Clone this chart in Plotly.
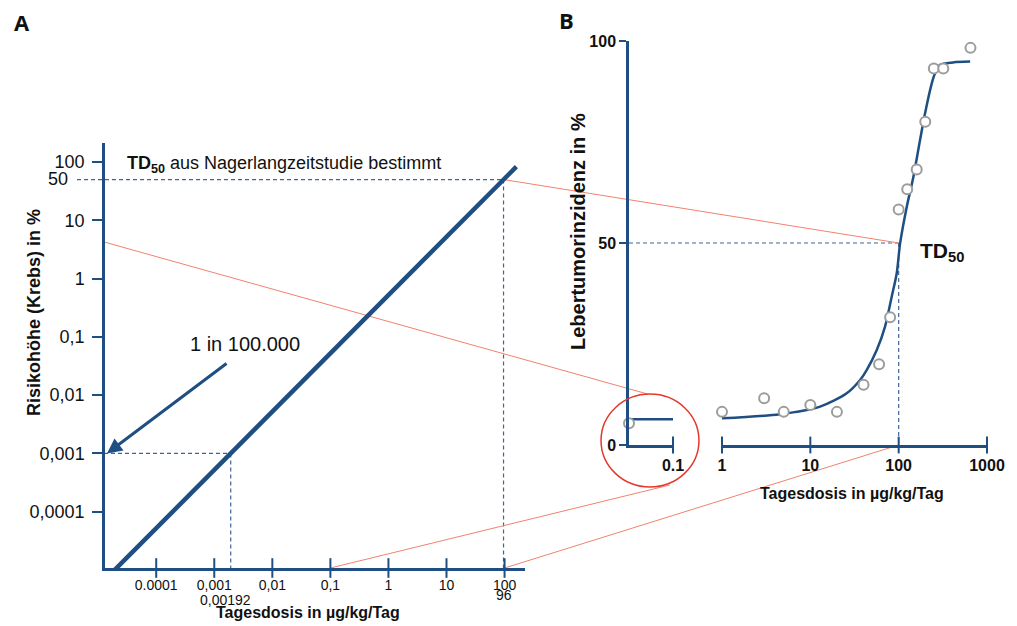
import math
import plotly.graph_objects as go

W, H = 1017, 626

# ---------------- data ----------------
# Panel A (log-log extrapolation)
a_x_tickvals = [1e-4, 1e-3, 1e-2, 1e-1, 1, 10, 100]
a_x_ticktext = ["0.0001", "0,001", "0,01", "0,1", "1", "10", "100"]
a_y_tickvals = [1e-4, 1e-3, 1e-2, 1e-1, 1, 10, 100]
a_y_ticktext = ["0,0001", "0,001", "0,01", "0,1", "1", "10", "100"]
td50_dose = 96
td50_risk = 50
target_risk = 0.001
target_dose = 0.00192
line_dose = [0.0000192, 160]
line_risk = [0.00001, 83.3]
red_start_risk = 4.2

# Panel B (dose-response)
b_x_tickvals = [1, 10, 100, 1000]
b_x_ticktext = ["1", "10", "100", "1000"]
b_y_tickvals = [0, 50, 100]
curve_dose = [1, 4.5, 12.9, 25.8, 36.6, 43.6, 56.5, 70.1, 83.4, 95.1, 103.8,
              123.6, 146.9, 174.6, 199, 237, 258, 294, 413, 644]
curve_pct = [6.6, 7.6, 9.5, 12.8, 16.1, 18.6, 23.5, 29.3, 36.7, 42.5, 49.9,
             59.0, 66.4, 75.5, 82.1, 89.5, 92.0, 94.1, 94.7, 94.9]
obs_dose = [1, 3, 5, 10, 20, 40, 60, 80, 100, 125, 160, 200, 250, 320, 650]
obs_pct = [8.2, 11.6, 8.2, 9.9, 8.2, 14.9, 20.0, 31.6, 58.3, 63.3, 68.2, 80.0, 93.2, 93.2, 98.3]
low_dose = [0, 0.1]
low_level = [6.4, 6.4]
ctrl_dose = [0]
ctrl_pct = [5.4]
b_td50_dose = 100
b_td50_pct = 50

# ---------------- layout geometry ----------------
A_X = dict(p0=105, p1=525, r0=-4.882, r1=2.352, log=True)
A_Y = dict(p0=568, p1=143, r0=-4.966, r1=2.326, log=True)
B1_X = dict(p0=629, p1=673, r0=0.0, r1=0.1, log=False)
B_Y = dict(p0=445, p1=41, r0=0.0, r1=100.0, log=False)
B2_X = dict(p0=722, p1=987, r0=0.0, r1=3.0, log=True)


def to_px(v, ax):
    t = math.log10(v) if ax["log"] else v
    return ax["p0"] + (t - ax["r0"]) / (ax["r1"] - ax["r0"]) * (ax["p1"] - ax["p0"])


def px_x(px):
    return px / W


def px_y(py):
    return 1 - py / H


def dom_x(ax):
    return [ax["p0"] / W, ax["p1"] / W]


def dom_y(ax):
    return [1 - ax["p0"] / H, 1 - ax["p1"] / H]


BLUE = "#1f4e82"
DASH = "#3f6597"
SALMON = "#f2826c"
RED = "#e5372c"
GREY = "#9c9c9c"
FONT = "Liberation Sans"

fig = go.Figure()

# Panel A diagonal
fig.add_trace(go.Scatter(x=line_dose, y=line_risk, xaxis="x", yaxis="y", mode="lines",
                         line=dict(color=BLUE, width=4.5), hoverinfo="skip"))
# crossing tick marks A x-axis
fig.add_trace(go.Scatter(x=a_x_tickvals, y=[10 ** A_Y["r0"]] * len(a_x_tickvals), xaxis="x", yaxis="y",
                         mode="markers", cliponaxis=False,
                         marker=dict(symbol="line-ns", size=14, line=dict(color=BLUE, width=2)),
                         hoverinfo="skip"))

# Panel B curve
fig.add_trace(go.Scatter(x=curve_dose, y=curve_pct, xaxis="x3", yaxis="y2", mode="lines",
                         line=dict(color=BLUE, width=2.5, shape="spline", smoothing=0.8),
                         hoverinfo="skip"))
fig.add_trace(go.Scatter(x=obs_dose, y=obs_pct, xaxis="x3", yaxis="y2", mode="markers",
                         cliponaxis=False,
                         marker=dict(symbol="circle", size=10, color="white",
                                     line=dict(color=GREY, width=2))))
fig.add_trace(go.Scatter(x=low_dose, y=low_level, xaxis="x2", yaxis="y2", mode="lines",
                         line=dict(color=BLUE, width=2.5), hoverinfo="skip"))
fig.add_trace(go.Scatter(x=ctrl_dose, y=ctrl_pct, xaxis="x2", yaxis="y2", mode="markers",
                         cliponaxis=False,
                         marker=dict(symbol="circle", size=10, color="white",
                                     line=dict(color=GREY, width=2))))
# crossing tick marks B
fig.add_trace(go.Scatter(x=b_x_tickvals, y=[0] * len(b_x_tickvals), xaxis="x3", yaxis="y2",
                         mode="markers", cliponaxis=False,
                         marker=dict(symbol="line-ns", size=12, line=dict(color=BLUE, width=2)),
                         hoverinfo="skip"))
fig.add_trace(go.Scatter(x=[B1_X["r1"]], y=[0], xaxis="x2", yaxis="y2",
                         mode="markers", cliponaxis=False,
                         marker=dict(symbol="line-ns", size=12, line=dict(color=BLUE, width=2)),
                         hoverinfo="skip"))

common = dict(showgrid=False, zeroline=False, showline=True, linecolor=BLUE, tickcolor=BLUE,
              automargin=False)

fig.update_layout(
    template="none",
    width=W, height=H, margin=dict(l=0, r=0, t=0, b=0, pad=0), autosize=False,
    paper_bgcolor="white", plot_bgcolor="white", showlegend=False,
    font=dict(family=FONT, color="#111111"),
    xaxis=dict(type="log", range=[A_X["r0"], A_X["r1"]], domain=dom_x(A_X), anchor="y",
               tickvals=a_x_tickvals, ticktext=a_x_ticktext, ticks="", ticklabelstandoff=2,
               linewidth=2.5, tickfont=dict(size=14, family=FONT, color="#111"), **common),
    yaxis=dict(type="log", range=[A_Y["r0"], A_Y["r1"]], domain=dom_y(A_Y), anchor="x",
               tickvals=a_y_tickvals, ticktext=a_y_ticktext, ticks="outside", ticklen=10,
               tickwidth=1.5, linewidth=2.5, ticklabelstandoff=4,
               tickfont=dict(size=18, family=FONT, color="#111"), **common),
    xaxis2=dict(range=[B1_X["r0"], B1_X["r1"]], domain=dom_x(B1_X), anchor="y2",
                tickvals=[B1_X["r1"]], ticktext=["<b>0.1</b>"], ticks="",
                linewidth=2.5, ticklabelstandoff=4,
                tickfont=dict(size=16, family=FONT, color="#111"), **common),
    yaxis2=dict(range=[B_Y["r0"], B_Y["r1"]], domain=dom_y(B_Y), anchor="x2",
                tickvals=b_y_tickvals, ticktext=["<b>%d</b>" % v for v in b_y_tickvals],
                ticks="outside", ticklen=7, tickwidth=2, linewidth=2.5,
                tickfont=dict(size=16, family=FONT, color="#111"), **common),
    xaxis3=dict(type="log", range=[B2_X["r0"], B2_X["r1"]], domain=dom_x(B2_X), anchor="y2",
                tickvals=b_x_tickvals, ticktext=["<b>%s</b>" % t for t in b_x_ticktext],
                ticks="", linewidth=2.5, ticklabelstandoff=4,
                tickfont=dict(size=16, family=FONT, color="#111"), **common),
)

shapes = []


def seg(x0, y0, x1, y1, color, width, dash="solid"):
    shapes.append(dict(type="line", xref="paper", yref="paper",
                       x0=px_x(x0), y0=px_y(y0), x1=px_x(x1), y1=px_y(y1),
                       line=dict(color=color, width=width, dash=dash), layer="below"))


GUIDE_DASH = "4px,3px"

# Panel A dashed guides
ax_left = A_X["p0"]
y_t = to_px(target_risk, A_Y)
x_t = to_px(target_dose, A_X)
seg(ax_left - 8, y_t, x_t, y_t, DASH, 1.2, GUIDE_DASH)
seg(x_t, y_t, x_t, A_Y["p0"], DASH, 1.2, GUIDE_DASH)
y_50 = to_px(td50_risk, A_Y)
x_96 = to_px(td50_dose, A_X)
seg(ax_left - 28, y_50, x_96, y_50, DASH, 1.2, GUIDE_DASH)
seg(x_96, y_50, x_96, A_Y["p0"], DASH, 1.2, GUIDE_DASH)

# Panel B dashed guides
yb50 = to_px(b_td50_pct, B_Y)
xb100 = to_px(b_td50_dose, B2_X)
seg(B1_X["p0"], yb50, xb100, yb50, DASH, 1.2, GUIDE_DASH)
seg(xb100, yb50, xb100, B_Y["p0"], DASH, 1.2, GUIDE_DASH)

# red highlight circle (in B1 data units)
circ_x = [-0.0636, 0.159]
circ_y = [-10.4, 12.6]
shapes.append(dict(type="circle", xref="paper", yref="paper",
                   x0=px_x(to_px(circ_x[0], B1_X)), x1=px_x(to_px(circ_x[1], B1_X)),
                   y0=px_y(to_px(circ_y[0], B_Y)), y1=px_y(to_px(circ_y[1], B_Y)),
                   line=dict(color=RED, width=1.5)))

# connector lines
seg(A_X["p0"], to_px(red_start_risk, A_Y), to_px(0.043, B1_X), to_px(12.6, B_Y), SALMON, 1)
seg(x_96, y_50, xb100, yb50, SALMON, 1)
seg(to_px(0.1, A_X), A_Y["p0"], to_px(0.093, B1_X), to_px(-9.9, B_Y), SALMON, 1)
seg(to_px(100, A_X), A_Y["p0"], xb100, B_Y["p0"], SALMON, 1)

fig.update_layout(shapes=shapes)

ann = []


def text(px, py, s, size, bold=False, xanchor="center", yanchor="middle", angle=0, family=FONT):
    ann.append(dict(xref="paper", yref="paper", x=px_x(px), y=px_y(py), text=s,
                    showarrow=False, xanchor=xanchor, yanchor=yanchor, textangle=angle,
                    font=dict(size=size, family=family, color="#111",
                              weight="bold" if bold else "normal")))


text(22, 22, "A", 22, bold=True, family="Open Sans")
text(566, 20, "B", 22, bold=True, family="Open Sans")
text(ax_left - 35, y_50 - 1, "50", 18, xanchor="right")
text(125, 164, "<b>TD<sub>50</sub></b> aus Nagerlangzeitstudie bestimmt", 18, xanchor="left")
text(245, 344, "1 in 100.000", 20)
text(x_t - 5, 600, "0,00192", 14)
text(x_96, 595, "96", 14)
text(34, 313, "Risikohöhe (Krebs) in %", 18, bold=True, angle=-90)
text(308, 612, "Tagesdosis in µg/kg/Tag", 16, bold=True)
text(852, 493, "Tagesdosis in µg/kg/Tag", 16, bold=True)
text(578, 232, "Lebertumorinzidenz in %", 20, bold=True, angle=-90)
text(918, 252, "<b>TD<sub>50</sub></b>", 21, xanchor="left")

# arrow pointing to 1 in 100.000 level
ann.append(dict(xref="paper", yref="paper", x=px_x(ax_left + 2), y=px_y(y_t), text="",
                showarrow=True, ax=121, ay=-91, arrowcolor=BLUE, arrowwidth=3,
                arrowhead=2, arrowsize=1))

fig.update_layout(annotations=ann)

fig.write_html(
    "out.html",
    config={"displayModeBar": False},
    post_script=("document.body.style.margin='0';"
                 "document.body.style.overflow='hidden';"
                 "document.documentElement.style.overflow='hidden';"),
)
